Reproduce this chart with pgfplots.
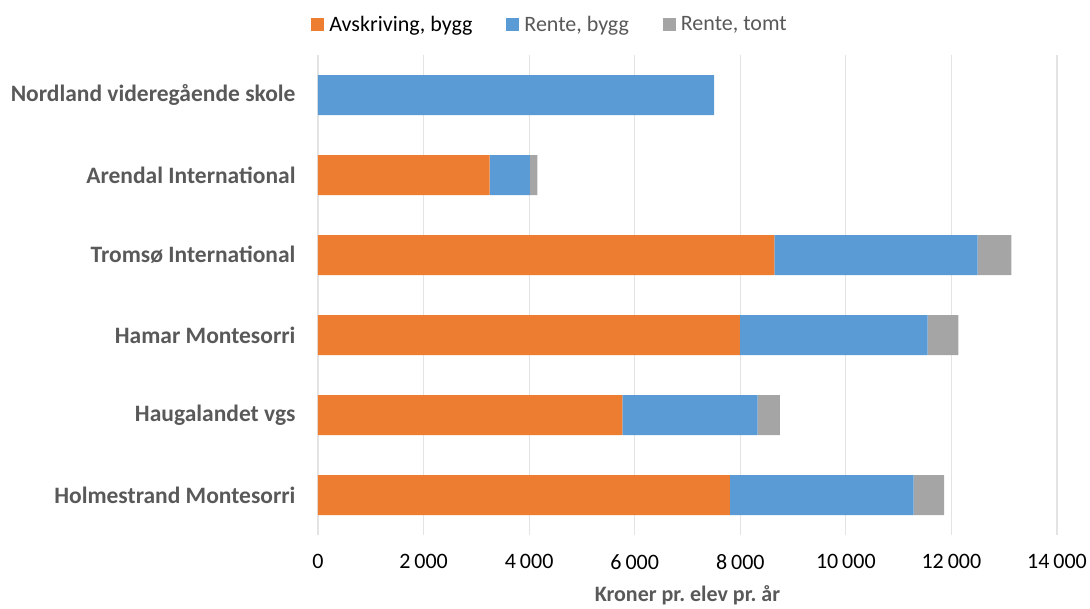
\documentclass[border=0pt]{standalone}
\usepackage{pgfplots}
\pgfplotsset{compat=1.18}
\usepackage{fontspec}
\setmainfont{Carlito}
\definecolor{orng}{HTML}{ED7D31}
\definecolor{blu}{HTML}{5B9BD5}
\definecolor{gry}{HTML}{A5A5A5}
\definecolor{txt}{HTML}{595959}
\begin{document}
\begin{tikzpicture}
\begin{axis}[
    at={(0,0)}, anchor=south west,
    scale only axis,
    width=739pt, height=480pt,
    xbar stacked,
    bar width=40pt,
    xmin=0, xmax=14000,
    ymin=-0.5, ymax=5.5,
    axis line style={draw=none},
    xmajorgrids=true,
    grid style={line width=1.2pt, gray!22},
    xtick={0,2000,...,14000},
    ytick={0,1,2,3,4,5},
    scaled x ticks=false,
    yticklabels={Holmestrand Montesorri, Haugalandet vgs, Hamar Montesorri, Tromsø International, Arendal International, Nordland videregående skole},
    yticklabel style={font=\fontsize{23.5}{27}\selectfont\bfseries, text=txt, xshift=-19pt},
    xticklabel style={font=\fontsize{22}{26}\selectfont, text=black, yshift=-16pt},
    /pgf/number format/assume math mode=true,
    /pgf/number format/fixed,
    /pgf/number format/1000 sep={\hspace{0.18em}},
    xlabel={Kroner pr.\ elev pr.\ år},
    xlabel style={font=\fontsize{22}{26}\selectfont\bfseries, text=txt, yshift=-9pt},
    major tick length=0pt,
    legend style={draw=none, at={(0.314,1.0)}, anchor=south, yshift=18pt,
        legend columns=3, font=\fontsize{22}{26}\selectfont,
        /tikz/every odd column/.append style={column sep=3pt},
        /tikz/every even column/.append style={column sep=32pt}},
    legend cell align={left},
    legend image code/.code={\fill[#1] (0pt,-6.5pt) rectangle (13pt,6.5pt);},
]
\addplot[fill=orng, draw=none] coordinates {
    (7805,0) (5765,1) (7990,2) (8645,3) (3250,4) (0,5)};
\addlegendentry{\textcolor{black}{Avskriving, bygg}}
\addplot[fill=blu, draw=none] coordinates {
    (3480,0) (2565,1) (3560,2) (3850,3) (765,4) (7505,5)};
\addlegendentry{\textcolor{txt}{Rente, bygg}}
\addplot[fill=gry, draw=none] coordinates {
    (575,0) (420,1) (580,2) (640,3) (140,4) (0,5)};
\addlegendentry{\textcolor{txt}{Rente, tomt}}
\end{axis}
\pgfresetboundingbox
\path[use as bounding box] (-318pt,-73pt) rectangle (772pt,535pt);
\end{tikzpicture}
\end{document}
